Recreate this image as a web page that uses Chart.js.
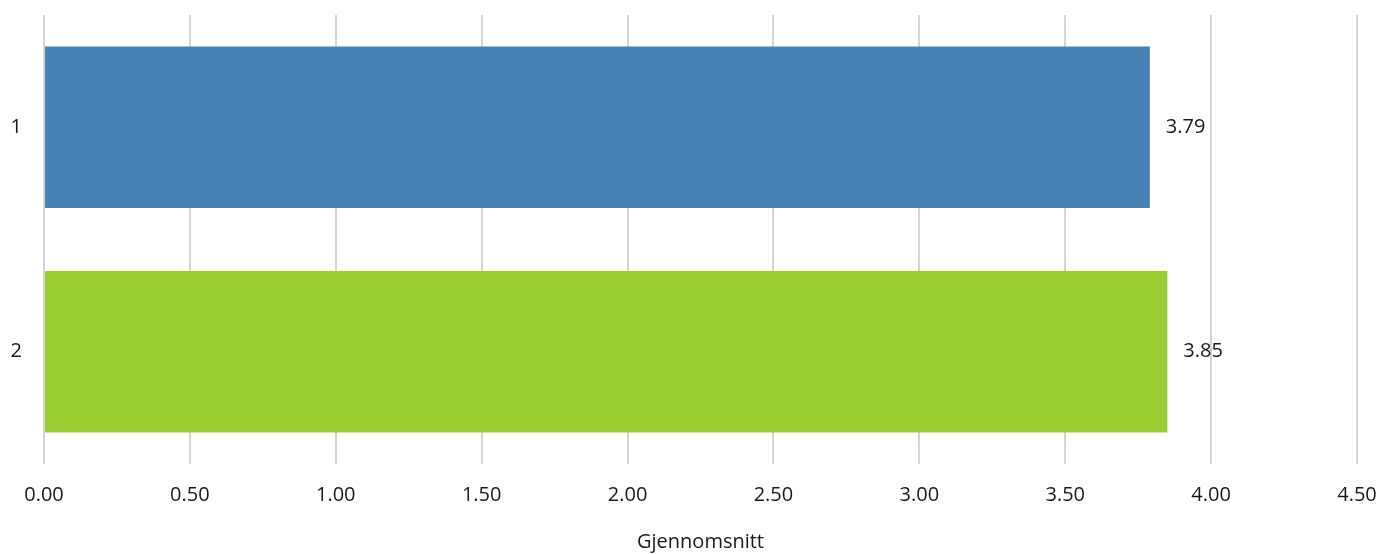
<!DOCTYPE html>
<html lang="no">
<head>
    <meta charset="UTF-8">
    <title>Gjennomsnitt</title>
    <script src="https://cdn.jsdelivr.net/npm/chart.js"></script>
    <style>
        html, body { margin: 0; padding: 0; background: #fff; }
        #wrap { width: 1396px; height: 554px; }
    </style>
</head>
<body>
    <div id="wrap"><canvas id="myChart"></canvas></div>

    <script>
        // data
        var categories = ['1', '2'];
        var values = [3.79, 3.85];
        var barColors = ['#4682B4', '#9ACD32'];
        var xTicks = [0, 0.5, 1, 1.5, 2, 2.5, 3, 3.5, 4, 4.5];
        var axisTitle = 'Gjennomsnitt';

        var fontFamily = "'Open Sans', 'Noto Sans', sans-serif";
        var fontSize = 20;
        var textColor = '#1a1a1a';

        // values written at the end of each bar
        var valueLabels = {
            id: 'valueLabels',
            afterDatasetsDraw: function (chart) {
                var ctx = chart.ctx;
                var meta = chart.getDatasetMeta(0);
                ctx.save();
                ctx.font = fontSize + 'px ' + fontFamily;
                ctx.fillStyle = textColor;
                ctx.textAlign = 'left';
                ctx.textBaseline = 'middle';
                meta.data.forEach(function (bar, i) {
                    ctx.fillText(values[i].toFixed(2), bar.x + 16, bar.y);
                });
                ctx.restore();
            }
        };

        var ctx = document.getElementById('myChart').getContext('2d');
        var myChart = new Chart(ctx, {
            type: 'bar',
            data: {
                labels: categories,
                datasets: [{
                    data: values,
                    backgroundColor: barColors,
                    borderWidth: 0,
                    categoryPercentage: 1,
                    barPercentage: 0.72
                }]
            },
            plugins: [valueLabels],
            options: {
                indexAxis: 'y',
                responsive: true,
                maintainAspectRatio: false,
                animation: false,
                layout: { padding: { top: 15, right: 39, left: 0, bottom: 0 } },
                plugins: {
                    legend: { display: false },
                    tooltip: { enabled: false }
                },
                scales: {
                    x: {
                        min: 0,
                        max: 4.5,
                        afterBuildTicks: function (scale) {
                            scale.ticks = xTicks.map(function (v) { return { value: v }; });
                        },
                        afterFit: function (scale) {
                            scale.height = 90;
                            scale.paddingLeft = 0;
                            scale.paddingRight = 0;
                        },
                        grid: { color: '#d4d4d4', lineWidth: 2, drawTicks: false },
                        border: { display: false },
                        ticks: {
                            padding: 19,
                            color: textColor,
                            font: { family: fontFamily, size: fontSize }
                        },
                        title: {
                            display: true,
                            text: axisTitle,
                            color: textColor,
                            font: { family: fontFamily, size: fontSize },
                            padding: { top: 0, bottom: 0 }
                        }
                    },
                    y: {
                        afterFit: function (scale) {
                            scale.width = 44;
                            scale.paddingTop = 0;
                            scale.paddingBottom = 0;
                        },
                        grid: { display: false, drawTicks: false },
                        border: { display: false },
                        ticks: {
                            padding: 22,
                            color: textColor,
                            font: { family: fontFamily, size: fontSize }
                        }
                    }
                }
            }
        });

        // tick labels with two decimals
        myChart.options.scales.x.ticks.callback = function (v) { return Number(v).toFixed(2); };
        myChart.update();
    </script>
</body>
</html>
